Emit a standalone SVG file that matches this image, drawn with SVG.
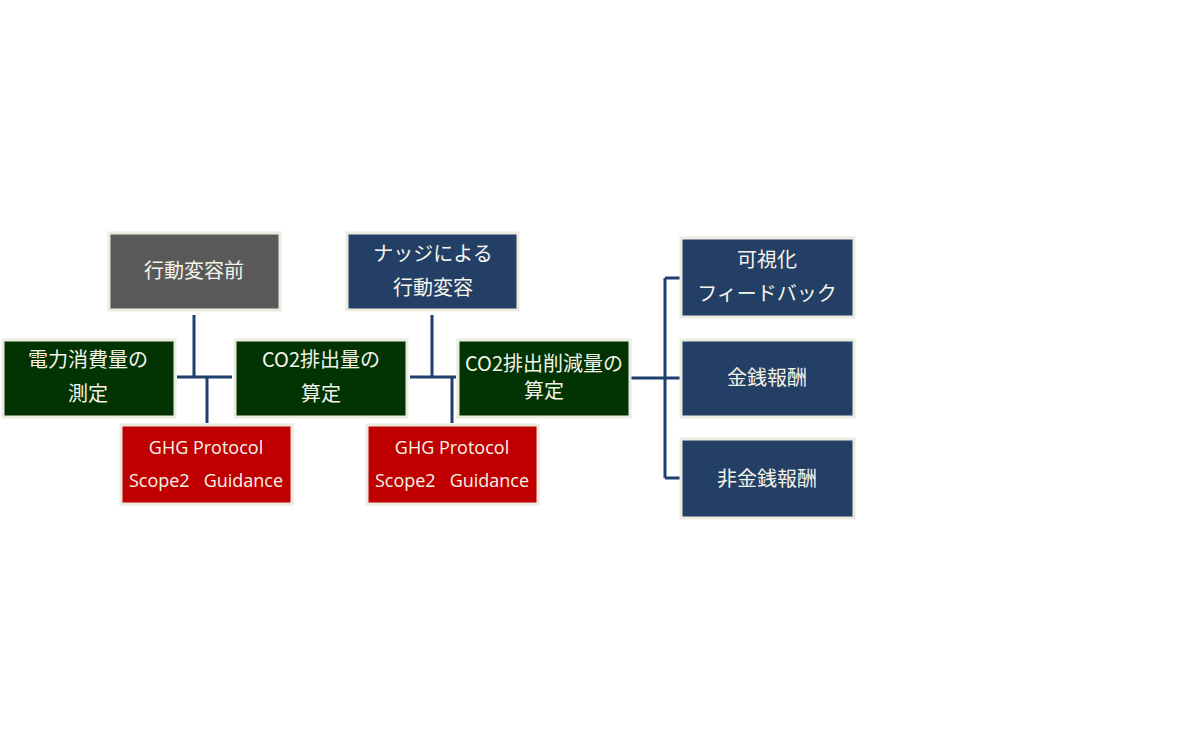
<svg xmlns="http://www.w3.org/2000/svg" width="1200" height="748" viewBox="0 0 1200 748">
<style>
.box{stroke:#ecebdf;stroke-width:3}
.gray{fill:#595959}.green{fill:#023302}.red{fill:#c00000}.navy{fill:#243f66}
text{font-family:"Noto Sans CJK JP","Noto Sans",sans-serif;font-size:20px;fill:#f4f4ea;text-anchor:middle}
.lat{font-family:"Open Sans","Noto Sans CJK JP",sans-serif;font-size:18px}
.c{fill:none;stroke:#1f3f6e;stroke-width:3}
</style>
<rect width="1200" height="748" fill="#ffffff"/>
<g id="connectors">
<path class="c" d="M194 315V377M177 377H232M207 377V423"/>
<path class="c" d="M432 315V377M410 377H456M452 377V423"/>
<path class="c" d="M631 378H680M665 278V478M665 278H680M665 478H680"/>
</g>
<g id="n1"><rect class="box gray" x="109" y="233" width="171" height="77"/><text x="194" y="278">行動変容前</text></g>
<g id="n2"><rect class="box green" x="3" y="340" width="172" height="77"/><text x="88" y="367">電力消費量の</text><text x="88" y="401">測定</text></g>
<g id="n3"><rect class="box green" x="235" y="340" width="172" height="77"/><text x="321" y="367">CO2排出量の</text><text x="321" y="401">算定</text></g>
<g id="n4"><rect class="box red" x="121" y="425" width="171" height="79"/><text class="lat" x="206" y="454">GHG Protocol</text><text class="lat" x="206" y="487" xml:space="preserve">Scope2   Guidance</text></g>
<g id="n5"><rect class="box navy" x="347" y="233" width="171" height="77"/><text x="433" y="261">ナッジによる</text><text x="433" y="295">行動変容</text></g>
<g id="n6"><rect class="box red" x="367" y="425" width="171" height="79"/><text class="lat" x="452" y="454">GHG Protocol</text><text class="lat" x="452" y="487" xml:space="preserve">Scope2   Guidance</text></g>
<g id="n7"><rect class="box green" x="458" y="340" width="172" height="77"/><text x="544" y="371">CO2排出削減量の</text><text x="544" y="398">算定</text></g>
<g id="n8"><rect class="box navy" x="681" y="238" width="173" height="79"/><text x="767" y="267">可視化</text><text x="767" y="301">フィードバック</text></g>
<g id="n9"><rect class="box navy" x="681" y="340" width="173" height="77"/><text x="767" y="385">金銭報酬</text></g>
<g id="n10"><rect class="box navy" x="681" y="439" width="173" height="79"/><text x="767" y="486">非金銭報酬</text></g>
</svg>
